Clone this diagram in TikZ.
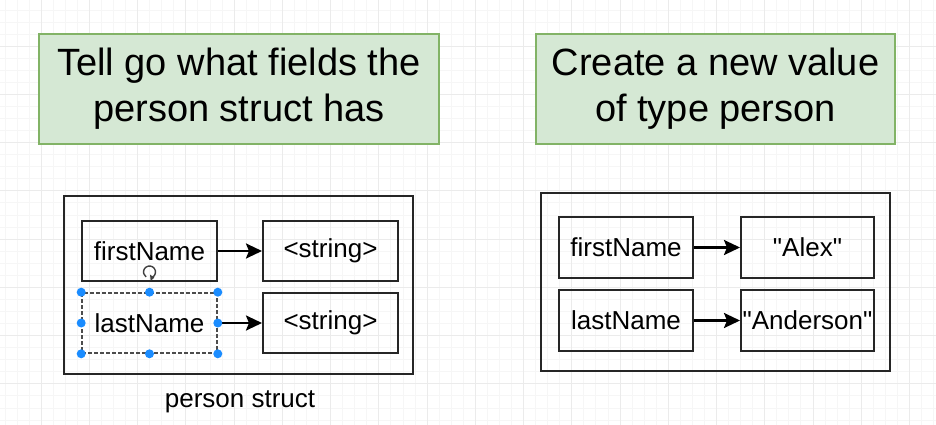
\documentclass[tikz,border=0pt]{standalone}
\usepackage{fontspec}
\setmainfont{Liberation Sans}[Ligatures=TeXOff]
\usetikzlibrary{arrows.meta}
\definecolor{gfill}{HTML}{D5E8D4}
\definecolor{gline}{HTML}{82B366}
\definecolor{selblue}{HTML}{1A8CFF}
\definecolor{gridmaj}{HTML}{EBEBEB}
\definecolor{gridmin}{HTML}{F6F6F6}
\tikzset{
  titlebox/.style={draw=gline, fill=gfill, line width=2pt, inner sep=0pt, align=center,
    font=\fontsize{38}{46}\selectfont},
  outerbox/.style={draw=black!85, line width=2.2pt, inner sep=0pt},
  field/.style={draw=black!85, line width=2pt, inner sep=0pt, minimum width=135, minimum height=60,
    font=\fontsize{26}{30}\selectfont},
  link/.style={line width=2.5pt, -{Stealth[length=16pt,width=15pt,inset=3pt]}},
  handle/.style={circle, fill=selblue, inner sep=0pt, minimum size=9pt},
  lbl/.style={font=\fontsize{26}{30}\selectfont, inner sep=0pt},
}
\begin{document}
\begin{tikzpicture}[x=1pt,y=-1pt]
\useasboundingbox (0,0) rectangle (936,425);
\fill[white] (0,0) rectangle (936,425);
% grid
\foreach \i in {-3,...,77} {
  \draw[gridmin, line width=0.6pt] ({41+12.06*\i},0) -- ({41+12.06*\i},425);
}
\foreach \i in {-3,...,35} {
  \draw[gridmin, line width=0.6pt] (0,{46+12.06*\i}) -- (936,{46+12.06*\i});
}
\foreach \i in {-1,...,19} {
  \draw[gridmaj, line width=0.8pt] ({41+48.25*\i},0) -- ({41+48.25*\i},425);
}
\foreach \i in {-1,...,8} {
  \draw[gridmaj, line width=0.8pt] (0,{46+48.25*\i}) -- (936,{46+48.25*\i});
}

% titles
\node[titlebox, minimum width=400, minimum height=110] (t1) at (239,89)
  {Tell go what fields the\\person struct has};
\node[titlebox, minimum width=359, minimum height=110] (t2) at (715.5,89)
  {Create a new value\\of type person};

% left struct
\node[outerbox, minimum width=349, minimum height=178] (lo) at (238.5,285) {};
\node[field] (lf) at (149.5,251) {firstName};
\node[field] (ls1) at (330.5,251) {<string>};
\node[field, draw=black!70, dash pattern=on 4pt off 2pt, line width=1.6pt] (ll) at (149.5,323) {lastName};
\node[field] (ls2) at (330.5,323) {<string>};
\draw[link] (lf.east) -- (ls1.west);
\draw[link] (ll.east) -- (ls2.west);
\node[lbl] (lcap) at (240,402) {person struct};

% selection handles
\foreach \p [count=\k] in {north west, north, north east, west, east, south west, south, south east} {
  \node[handle] (h\k) at (ll.\p) {};
}
% rotate icon
\coordinate (rot) at (149.5,272);
\draw[black!75, line width=1.4pt]
  ([shift={(75:6)}]rot) arc[start angle=75, end angle=-235, radius=6];
\fill[black!75] ([shift={(75:6)}]rot) ++(-1,-3.2) -- ++(4.2,3) -- ++(-3.6,3.4) -- cycle;

% right value
\node[outerbox, minimum width=349, minimum height=178] (ro) at (715.5,282) {};
\node[field, minimum width=134, minimum height=61] (rf) at (626,247.5) {firstName};
\node[field, minimum width=133, minimum height=61] (ra) at (807.5,247.5) {"Alex"};
\node[field, minimum width=134, minimum height=61] (rl) at (626,320.5) {lastName};
\node[field, minimum width=133, minimum height=61] (rn) at (807.5,320.5) {"Anderson"};
\draw[link] (rf.east) -- (ra.west);
\draw[link] (rl.east) -- (rn.west);
\end{tikzpicture}
\end{document}
